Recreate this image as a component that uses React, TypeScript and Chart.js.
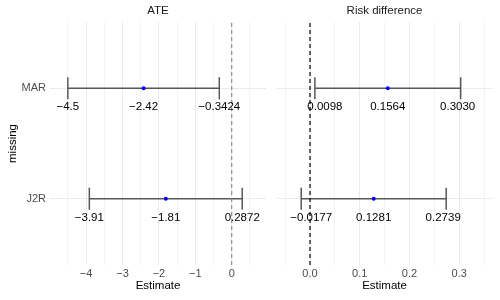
import React, { useEffect, useRef } from 'react';
import { Chart, registerables } from 'chart.js';

Chart.register(...registerables);

const FONT = "'Liberation Sans', Arial, Helvetica, sans-serif";

// Rows of the y axis (bottom to top)
const categories = ['J2R', 'MAR'];

// ATE panel
const ateEstimate = [-1.81, -2.42];
const ateLower = [-3.91, -4.5];
const ateUpper = [0.2872, -0.3424];
const ateEstimateText = ['\u22121.81', '\u22122.42'];
const ateLowerText = ['\u22123.91', '\u22124.5'];
const ateUpperText = ['0.2872', '\u22120.3424'];
const ateTicks = [-4.5, -4, -3.5, -3, -2.5, -2, -1.5, -1, -0.5, 0, 0.5];

// Risk difference panel
const rdEstimate = [0.1281, 0.1564];
const rdLower = [-0.0177, 0.0098];
const rdUpper = [0.2739, 0.303];
const rdEstimateText = ['0.1281', '0.1564'];
const rdLowerText = ['\u22120.0177', '0.0098'];
const rdUpperText = ['0.2739', '0.3030'];
const rdTicks = [-0.05, 0, 0.05, 0.1, 0.15, 0.2, 0.25, 0.3, 0.35];

type PanelSpec = {
  title: string;
  est: number[];
  lo: number[];
  hi: number[];
  estText: string[];
  loText: string[];
  hiText: string[];
  ticks: number[];
  isMajor: (v: number) => boolean;
  fmt: (v: number) => string;
  min: number;
  max: number;
  zeroColor: string;
  zeroWidth: number;
  showY: boolean;
  nudgeLo: number;
  nudgeHi: number;
  padding: { left: number; right: number };
};

function buildConfig(p: PanelSpec): any {
  const datasets: any[] = [];
  datasets.push({
    data: p.est.map((v, i) => ({ x: v, y: i + 1 })),
    backgroundColor: '#0000ff',
    borderWidth: 0,
    pointRadius: 2,
    order: 0,
  });
  datasets.push({
    data: [
      { x: 0, y: 0.4 },
      { x: 0, y: 2.6 },
    ],
    showLine: true,
    borderColor: p.zeroColor,
    borderWidth: p.zeroWidth,
    borderDash: [4, 3],
    pointRadius: 0,
    order: 1,
  });
  p.est.forEach((_, i) => {
    const y = i + 1;
    const bar = { showLine: true, borderColor: '#585858', borderWidth: 1.5, pointRadius: 0, order: 2 };
    datasets.push({ ...bar, data: [{ x: p.lo[i], y }, { x: p.hi[i], y }] });
    datasets.push({ ...bar, data: [{ x: p.lo[i], y: y - 0.1 }, { x: p.lo[i], y: y + 0.1 }] });
    datasets.push({ ...bar, data: [{ x: p.hi[i], y: y - 0.1 }, { x: p.hi[i], y: y + 0.1 }] });
  });

  const labelPlugin = {
    id: 'ciLabels',
    afterDatasetsDraw(chart: any) {
      const ctx = chart.ctx;
      const xs = chart.scales.x;
      const ys = chart.scales.y;
      ctx.save();
      ctx.font = '11.5px ' + FONT;
      ctx.fillStyle = '#000000';
      ctx.textAlign = 'center';
      ctx.textBaseline = 'middle';
      p.est.forEach((_, i) => {
        const py = ys.getPixelForValue(i + 1 - 0.17);
        ctx.fillText(p.loText[i], xs.getPixelForValue(p.lo[i]) + p.nudgeLo, py);
        ctx.fillText(p.estText[i], xs.getPixelForValue(p.est[i]), py);
        ctx.fillText(p.hiText[i], xs.getPixelForValue(p.hi[i]) + p.nudgeHi, py);
      });
      ctx.restore();
    },
  };

  return {
    type: 'scatter',
    data: { datasets },
    plugins: [labelPlugin],
    options: {
      animation: false,
      responsive: false,
      events: [],
      layout: { padding: { left: p.padding.left, right: p.padding.right, top: 0, bottom: 0 } },
      plugins: {
        legend: { display: false },
        tooltip: { enabled: false },
        title: {
          display: true,
          text: p.title,
          color: '#1a1a1a',
          font: { family: FONT, size: 11.5, weight: 'normal' },
          padding: { top: 4, bottom: 4.2 },
          fullSize: false,
        },
      },
      scales: {
        x: {
          type: 'linear',
          min: p.min,
          max: p.max,
          afterBuildTicks: (s: any) => {
            s.ticks = p.ticks.map((v) => ({ value: v }));
          },
          afterFit: (s: any) => {
            s.height = 35;
          },
          ticks: {
            callback: (v: any) => p.fmt(Number(v)),
            color: '#4d4d4d',
            font: { family: FONT, size: 11 },
            padding: 2,
            autoSkip: false,
            maxRotation: 0,
          },
          grid: {
            color: (c: any) => (c.tick && p.isMajor(c.tick.value) ? '#ebebeb' : '#f3f3f3'),
            lineWidth: 1,
            drawTicks: false,
          },
          border: { display: false },
          title: {
            display: true,
            text: 'Estimate',
            color: '#000000',
            font: { family: FONT, size: 11.5 },
            padding: { top: 0, bottom: 7 },
          },
        },
        y: {
          type: 'linear',
          min: 0.4,
          max: 2.6,
          afterBuildTicks: (s: any) => {
            s.ticks = categories.map((_, i) => ({ value: i + 1 }));
          },
          afterFit: (s: any) => {
            s.width = p.showY ? 50 : 0;
          },
          ticks: {
            display: p.showY,
            callback: (v: any) => categories[Math.round(Number(v)) - 1] ?? '',
            color: '#4d4d4d',
            font: { family: FONT, size: 11 },
            padding: 4,
          },
          grid: { color: '#ebebeb', lineWidth: 1, drawTicks: false },
          border: { display: false },
          title: {
            display: p.showY,
            text: 'missing',
            color: '#000000',
            font: { family: FONT, size: 11.5 },
            padding: { top: 6, bottom: 0 },
          },
        },
      },
    },
  };
}

const minus = (s: string) => s.replace('-', '\u2212');

const atePanel: PanelSpec = {
  title: 'ATE',
  est: ateEstimate,
  lo: ateLower,
  hi: ateUpper,
  estText: ateEstimateText,
  loText: ateLowerText,
  hiText: ateUpperText,
  ticks: ateTicks,
  isMajor: (v) => Math.abs(v - Math.round(v)) < 1e-6,
  fmt: (v) => (Math.abs(v - Math.round(v)) < 1e-6 ? minus(String(Math.round(v))) : ''),
  min: -4.99,
  max: 0.94,
  zeroColor: '#7a7a7a',
  zeroWidth: 1,
  showY: true,
  nudgeLo: 0,
  nudgeHi: 0,
  padding: { left: 0, right: 4 },
};

const rdPanel: PanelSpec = {
  title: 'Risk difference',
  est: rdEstimate,
  lo: rdLower,
  hi: rdUpper,
  estText: rdEstimateText,
  loText: rdLowerText,
  hiText: rdUpperText,
  ticks: rdTicks,
  isMajor: (v) => Math.abs(v * 10 - Math.round(v * 10)) < 1e-6,
  fmt: (v) => (Math.abs(v * 10 - Math.round(v * 10)) < 1e-6 ? minus(v.toFixed(1)) : ''),
  min: -0.0684,
  max: 0.368,
  zeroColor: '#000000',
  zeroWidth: 1.2,
  showY: false,
  nudgeLo: 10,
  nudgeHi: -3,
  padding: { left: 6, right: 7 },
};

export default function App() {
  const leftRef = useRef<HTMLCanvasElement | null>(null);
  const rightRef = useRef<HTMLCanvasElement | null>(null);

  useEffect(() => {
    Chart.defaults.font.family = FONT;
    const c1 = new Chart(leftRef.current as HTMLCanvasElement, buildConfig(atePanel));
    const c2 = new Chart(rightRef.current as HTMLCanvasElement, buildConfig(rdPanel));
    return () => {
      c1.destroy();
      c2.destroy();
    };
  }, []);

  return (
    <div style={{ position: 'absolute', left: 0, top: 0, width: 500, height: 300, background: '#ffffff' }}>
      <canvas ref={leftRef} width={270} height={300} style={{ position: 'absolute', left: 0, top: 0, width: 270, height: 300 }} />
      <canvas ref={rightRef} width={230} height={300} style={{ position: 'absolute', left: 270, top: 0, width: 230, height: 300 }} />
    </div>
  );
}
